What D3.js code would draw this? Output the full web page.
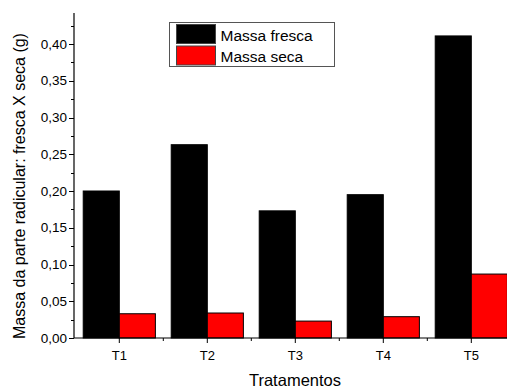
<!DOCTYPE html>
<html>
<head>
<meta charset="utf-8">
<script src="https://cdn.jsdelivr.net/npm/d3@7"></script>
<style>
body { margin: 0; background: #fff; }
svg { display: block; font-family: "Liberation Sans", Arial, sans-serif; }
</style>
</head>
<body>
<svg></svg>
<script>
var width = 507;
var height = 389;

// data
var categories = ["T1", "T2", "T3", "T4", "T5"];
var seriesNames = ["Massa fresca", "Massa seca"];
var fresca = [0.200, 0.263, 0.173, 0.195, 0.411];
var seca = [0.033, 0.034, 0.023, 0.029, 0.087];
var yTicks = [0, 0.05, 0.10, 0.15, 0.20, 0.25, 0.30, 0.35, 0.40];
var colors = ["#000000", "#ff0000"];

var svg = d3.select("svg")
    .attr("width", width)
    .attr("height", height);

var x = d3.scaleBand()
    .domain(categories)
    .range([75.3, 515.3])
    .paddingInner(0.18)
    .paddingOuter(0.09);

var xs = d3.scaleBand()
    .domain(seriesNames)
    .range([0, x.bandwidth()]);

var y = d3.scaleLinear()
    .domain([0, 0.4422])
    .range([338, 13]);

var fmt = d3.formatLocale({decimal: ",", thousands: ".", grouping: [3], currency: ["", ""]}).format(".2f");

// bars
var rows = categories.map(function(c, i) { return {cat: c, vals: [fresca[i], seca[i]]}; });

var groups = svg.append("g").selectAll("g")
    .data(rows)
    .enter().append("g")
    .attr("transform", function(d) { return "translate(" + x(d.cat) + ",0)"; });

groups.selectAll("rect")
    .data(function(d) { return d.vals.map(function(v, j) { return {s: seriesNames[j], v: v, j: j}; }); })
    .enter().append("rect")
    .attr("x", function(d) { return xs(d.s); })
    .attr("y", function(d) { return y(d.v); })
    .attr("width", xs.bandwidth())
    .attr("height", function(d) { return y(0) - y(d.v); })
    .attr("fill", function(d) { return colors[d.j]; })
    .attr("stroke", "#000")
    .attr("stroke-width", 1);

// y axis
var yAxis = svg.append("g").attr("transform", "translate(74,0)");
yAxis.append("line").attr("x1", 0).attr("x2", 0).attr("y1", y.range()[1]).attr("y2", y(0))
    .attr("stroke", "#000").attr("stroke-width", 1.2);
yAxis.selectAll(".minor")
    .data(yTicks.map(function(t) { return t + 0.025; }))
    .enter().append("line")
    .attr("x1", -3).attr("x2", 0)
    .attr("y1", function(d) { return Math.round(y(d)) + 0.5; })
    .attr("y2", function(d) { return Math.round(y(d)) + 0.5; })
    .attr("stroke", "#000");
yAxis.selectAll(".major")
    .data(yTicks)
    .enter().append("line")
    .attr("x1", -5).attr("x2", 0)
    .attr("y1", function(d) { return Math.round(y(d)) + 0.5; })
    .attr("y2", function(d) { return Math.round(y(d)) + 0.5; })
    .attr("stroke", "#000");
yAxis.selectAll("text")
    .data(yTicks)
    .enter().append("text")
    .attr("x", -7)
    .attr("y", function(d) { return y(d); })
    .attr("dy", "0.35em")
    .attr("text-anchor", "end")
    .attr("font-size", 13.5)
    .text(function(d) { return fmt(d); });

// x axis
var xAxis = svg.append("g").attr("transform", "translate(0,338)");
xAxis.append("line").attr("x1", 74).attr("x2", width).attr("y1", 0).attr("y2", 0)
    .attr("stroke", "#000").attr("stroke-width", 1.2);
xAxis.selectAll(".major")
    .data(categories)
    .enter().append("line")
    .attr("x1", function(d) { return x(d) + x.bandwidth() / 2; })
    .attr("x2", function(d) { return x(d) + x.bandwidth() / 2; })
    .attr("y1", 0).attr("y2", 5)
    .attr("stroke", "#000");
xAxis.selectAll(".minor")
    .data(categories.slice(0, -1))
    .enter().append("line")
    .attr("x1", function(d) { return x(d) + x.bandwidth() / 2 + x.step() / 2; })
    .attr("x2", function(d) { return x(d) + x.bandwidth() / 2 + x.step() / 2; })
    .attr("y1", 0).attr("y2", 3)
    .attr("stroke", "#000");
xAxis.selectAll("text")
    .data(categories)
    .enter().append("text")
    .attr("x", function(d) { return x(d) + x.bandwidth() / 2; })
    .attr("y", 22)
    .attr("text-anchor", "middle")
    .attr("font-size", 13)
    .text(function(d) { return d; });

// axis titles
svg.append("text")
    .attr("x", 295).attr("y", 386)
    .attr("text-anchor", "middle")
    .attr("font-size", 16.5)
    .text("Tratamentos");

svg.append("text")
    .attr("transform", "translate(25,186) rotate(-90)")
    .attr("text-anchor", "middle")
    .attr("font-size", 16)
    .text("Massa da parte radicular: fresca X seca (g)");

// legend
var legend = svg.append("g").attr("transform", "translate(169.5,22.5)");
legend.append("rect")
    .attr("width", 165).attr("height", 44)
    .attr("fill", "#fff").attr("stroke", "#555").attr("stroke-width", 1);
var items = legend.selectAll(".item")
    .data(seriesNames)
    .enter().append("g")
    .attr("transform", function(d, i) { return "translate(7," + (2 + i * 21.5) + ")"; });
items.append("rect")
    .attr("width", 39).attr("height", 19)
    .attr("fill", function(d, i) { return colors[i]; })
    .attr("stroke", "#444");
items.append("text")
    .attr("x", 44).attr("y", 16)
    .attr("font-size", 15.5)
    .text(function(d) { return d; });
</script>
</body>
</html>
